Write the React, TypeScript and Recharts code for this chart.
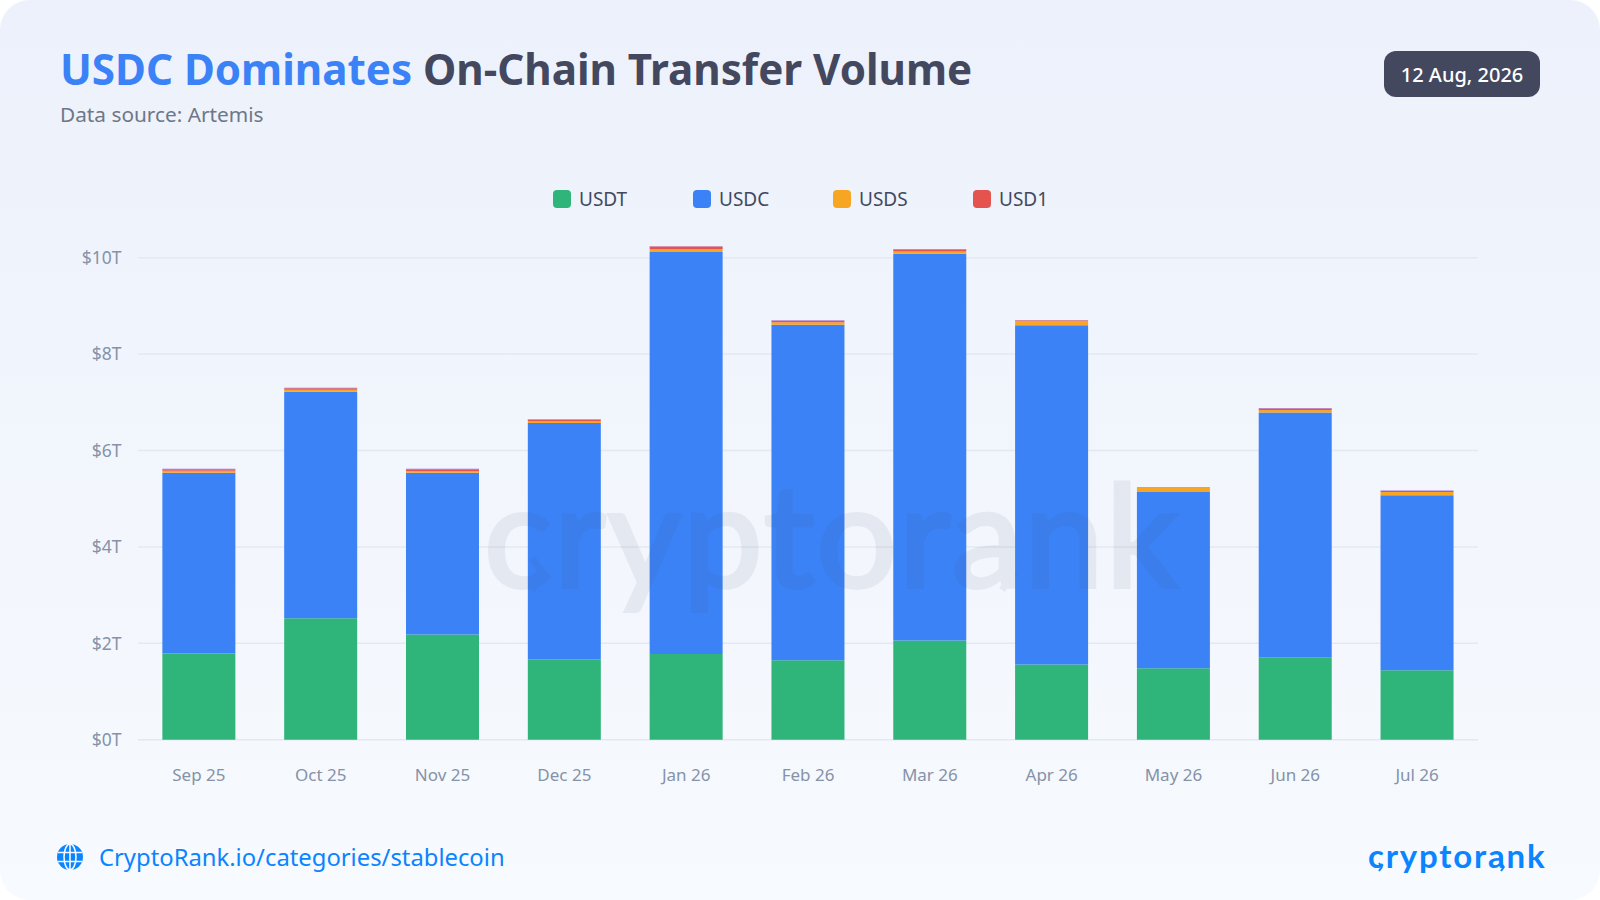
import { BarChart, Bar, XAxis, YAxis, CartesianGrid, Legend } from "recharts";

const months = ["Sep 25", "Oct 25", "Nov 25", "Dec 25", "Jan 26", "Feb 26", "Mar 26", "Apr 26", "May 26", "Jun 26", "Jul 26"];
const usdt = [1.79, 2.52, 2.18, 1.67, 1.78, 1.65, 2.06, 1.56, 1.48, 1.71, 1.44];
const usdc = [3.75, 4.70, 3.36, 4.90, 8.34, 6.96, 8.02, 7.04, 3.66, 5.08, 3.63];
const usds = [0.04, 0.04, 0.03, 0.04, 0.06, 0.05, 0.05, 0.09, 0.08, 0.05, 0.07];
const usd1 = [0.03, 0.03, 0.04, 0.03, 0.05, 0.03, 0.04, 0.01, 0.01, 0.03, 0.02];
// thin sliver on top of each bar, not named in the legend
const other = [0.01, 0.01, 0.01, 0.01, 0.01, 0.01, 0.01, 0.01, 0.01, 0.01, 0.01];
const yTicks = [0, 2, 4, 6, 8, 10];

const data = months.map((month, i) => ({
  month,
  USDT: usdt[i],
  USDC: usdc[i],
  USDS: usds[i],
  USD1: usd1[i],
  other: other[i],
}));

const seriesColors: Record<string, string> = {
  USDT: "#2fb47a",
  USDC: "#3b82f6",
  USDS: "#f6a623",
  USD1: "#e5534f",
};

const FONT = "'Noto Sans', sans-serif";

const ChartLegend = () => (
  <div style={{ position: "relative", height: 24 }}>
    {Object.keys(seriesColors).map((name, i) => (
      <div key={name} style={{ position: "absolute", left: 140 * i, top: 0, display: "flex", alignItems: "center", height: 24 }}>
        <span style={{ width: 18, height: 18, borderRadius: 4, background: seriesColors[name], marginRight: 8 }} />
        <span style={{ fontSize: 19, color: "#44485f", fontFamily: FONT }}>{name}</span>
      </div>
    ))}
  </div>
);

// the chevrons that sit in the "c" and "a" of the logo
const Chevron = ({ x, y, size, color, w }: any) => (
  <path
    d={`M${x} ${y - size}L${x + size * 0.7} ${y}L${x} ${y + size}`}
    fill="none"
    stroke={color}
    strokeWidth={w}
  />
);

export default function App() {
  return (
    <div
      style={{
        position: "absolute",
        left: 0,
        top: 0,
        width: 1600,
        height: 900,
        borderRadius: 30,
        overflow: "hidden",
        background: "linear-gradient(180deg, #ecf1fb 0%, #f7fafe 100%)",
        fontFamily: FONT,
      }}
    >
      <div style={{ position: "absolute", left: 60, top: 40, fontSize: 42.15, fontWeight: 700, lineHeight: "58px", color: "#44485f", whiteSpace: "nowrap" }}>
        <span style={{ color: "#3b82f6" }}>USDC Dominates</span> On-Chain Transfer Volume
      </div>
      <div style={{ position: "absolute", left: 60, top: 99, fontSize: 20.8, lineHeight: "30px", color: "#6f7787" }}>
        Data source: Artemis
      </div>
      <div
        style={{
          position: "absolute",
          left: 1384,
          top: 51,
          width: 156,
          height: 46,
          borderRadius: 12,
          background: "#44485f",
          color: "#fff",
          fontSize: 20,
          fontWeight: 500,
          lineHeight: "47px",
          textAlign: "center",
        }}
      >
        12 Aug, 2026
      </div>

      <div style={{ position: "absolute", left: 0, top: 0 }}>
        <BarChart
          width={1600}
          height={900}
          data={data}
          barCategoryGap="20%"
          margin={{ top: 209.6, right: 122, bottom: 100, left: 0 }}
        >
          <CartesianGrid vertical={false} stroke="#e3e8f2" strokeWidth={1.5} horizontalValues={yTicks} />
          <XAxis
            dataKey="month"
            height={60.3}
            axisLine={false}
            tickLine={false}
            tickMargin={23}
            tick={{ fontSize: 17, fill: "#8592a8", fontFamily: FONT }}
          />
          <YAxis
            width={138}
            domain={[0, 10.5]}
            ticks={yTicks}
            axisLine={false}
            tickLine={false}
            tickMargin={10.5}
            tickFormatter={(v) => `$${v}T`}
            tick={{ fontSize: 17.5, fill: "#8592a8", fontFamily: FONT }}
          />
          <Legend
            verticalAlign="top"
            height={24}
            content={<ChartLegend />}
            wrapperStyle={{ position: "absolute", left: 553, top: 187, width: 600, height: 24 }}
          />
          {["USDT", "USDC", "USDS", "USD1"].map((name) => (
            <Bar key={name} dataKey={name} stackId="total" fill={seriesColors[name]} isAnimationActive={false} />
          ))}
          <Bar dataKey="other" stackId="total" fill="#a06ee0" isAnimationActive={false} />
        </BarChart>
      </div>

      {/* watermark, over the bars */}
      <svg width={1600} height={900} style={{ position: "absolute", left: 0, top: 0, pointerEvents: "none" }}>
        <g opacity={0.075}>
          <text x={484} y={587} fontFamily="Lato" fontSize={142} letterSpacing={2.1} fill="#3c4a64" stroke="#3c4a64" strokeWidth={4}>
            cryptorank
          </text>
          <Chevron x={532} y={574} size={16} color="#3c4a64" w={7} />
          <Chevron x={1002} y={574} size={16} color="#3c4a64" w={7} />
        </g>
      </svg>

      <svg width={28} height={28} viewBox="0 0 28 28" style={{ position: "absolute", left: 56, top: 843 }}>
        <circle cx={14} cy={14} r={13} fill="#0a84ff" />
        <ellipse cx={14} cy={14} rx={6} ry={13} fill="none" stroke="#f5f8fe" strokeWidth={1.6} />
        <path d="M14 1V27M2 9.5H26M2 18.5H26" stroke="#f5f8fe" strokeWidth={1.6} />
      </svg>
      <div style={{ position: "absolute", left: 99, top: 840, fontSize: 23.8, lineHeight: "34px", color: "#0a84ff" }}>
        CryptoRank.io/categories/stablecoin
      </div>

      <svg width={220} height={70} style={{ position: "absolute", left: 1350, top: 825 }}>
        <text x={18} y={43} fontFamily="Lato" fontWeight={700} fontSize={33} letterSpacing={1.8} fill="#0a84ff">
          cryptorank
        </text>
        <Chevron x={29} y={42} size={4} color="#0a84ff" w={2} />
        <Chevron x={151} y={42} size={4} color="#0a84ff" w={2} />
      </svg>
    </div>
  );
}
